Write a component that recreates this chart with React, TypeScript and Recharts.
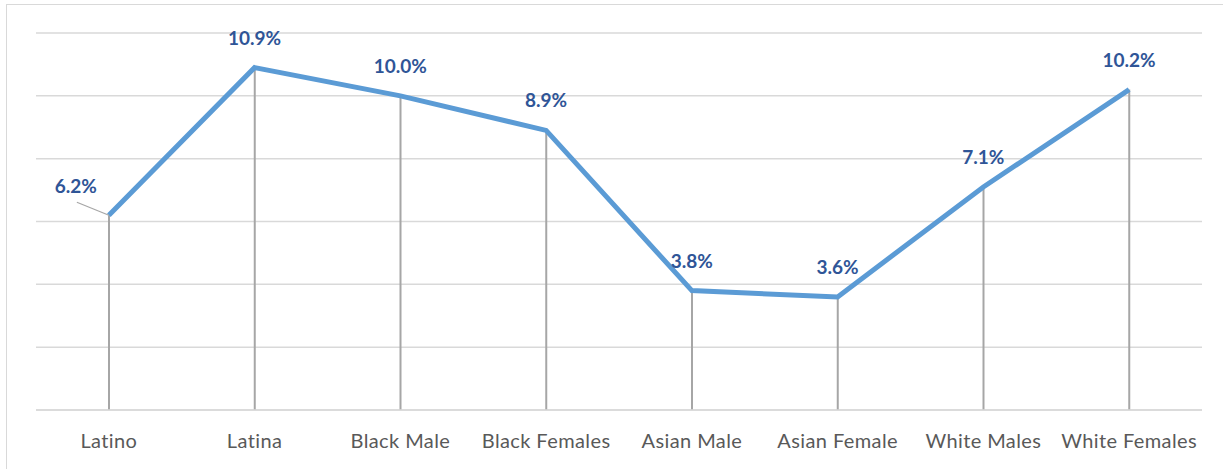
import { Bar, CartesianGrid, ComposedChart, LabelList, Line, XAxis, YAxis } from "recharts";

const groups = ["Latino", "Latina", "Black Male", "Black Females", "Asian Male", "Asian Female", "White Males", "White Females"];
const rates = [6.2, 10.9, 10.0, 8.9, 3.8, 3.6, 7.1, 10.2];
const yTicks = [0, 2, 4, 6, 8, 10, 12];

const chartData = groups.map((name, i) => ({ name, rate: rates[i] }));

const FONT = "Lato, 'Open Sans', sans-serif";

function PointLabel(props: any) {
  const { x, y, value, index } = props;
  const text = `${Number(value).toFixed(1)}%`;
  if (index === 0) {
    // first label sits up-left with a leader line
    return (
      <g>
        <line x1={x - 32} y1={y - 13} x2={x} y2={y} stroke="#A6A6A6" strokeWidth={1.2} />
        <text x={x - 33} y={y - 22} textAnchor="middle" fontFamily={FONT} fontSize={19} fontWeight={700} fill="#2F5597">
          {text}
        </text>
      </g>
    );
  }
  return (
    <text x={x} y={y - 23} textAnchor="middle" fontFamily={FONT} fontSize={19} fontWeight={700} fill="#2F5597">
      {text}
    </text>
  );
}

function GroupTick(props: any) {
  const { x, y, payload } = props;
  return (
    <text x={x} y={y + 38} textAnchor="middle" fontFamily={FONT} fontSize={20} letterSpacing={0.4} fill="#595959">
      {payload.value}
    </text>
  );
}

export default function App() {
  return (
    <div style={{ position: "absolute", left: 0, top: 0, width: 1223, height: 469, overflow: "hidden", background: "#fff" }}>
      <div style={{ position: "absolute", left: 6, top: 4, width: 1400, height: 700, border: "1px solid #D9D9D9" }} />
      <div style={{ position: "absolute", left: 0, top: 0 }}>
        <ComposedChart width={1223} height={469} data={chartData} margin={{ top: 33, right: 21, bottom: 29, left: 36 }}>
          <CartesianGrid vertical={false} stroke="#D9D9D9" strokeWidth={1.5} />
          <YAxis hide domain={[0, 12]} ticks={yTicks} />
          <XAxis
            dataKey="name"
            height={30}
            axisLine={{ stroke: "#D9D9D9", strokeWidth: 1.5 }}
            tickLine={false}
            tickSize={0}
            tickMargin={0}
            interval={0}
            tick={<GroupTick />}
          />
          <Bar dataKey="rate" barSize={2} fill="#A6A6A6" isAnimationActive={false} />
          <Line
            dataKey="rate"
            stroke="#5B9BD5"
            strokeWidth={5}
            dot={false}
            type="linear"
            isAnimationActive={false}
          >
            <LabelList dataKey="rate" content={<PointLabel />} />
          </Line>
        </ComposedChart>
      </div>
    </div>
  );
}
